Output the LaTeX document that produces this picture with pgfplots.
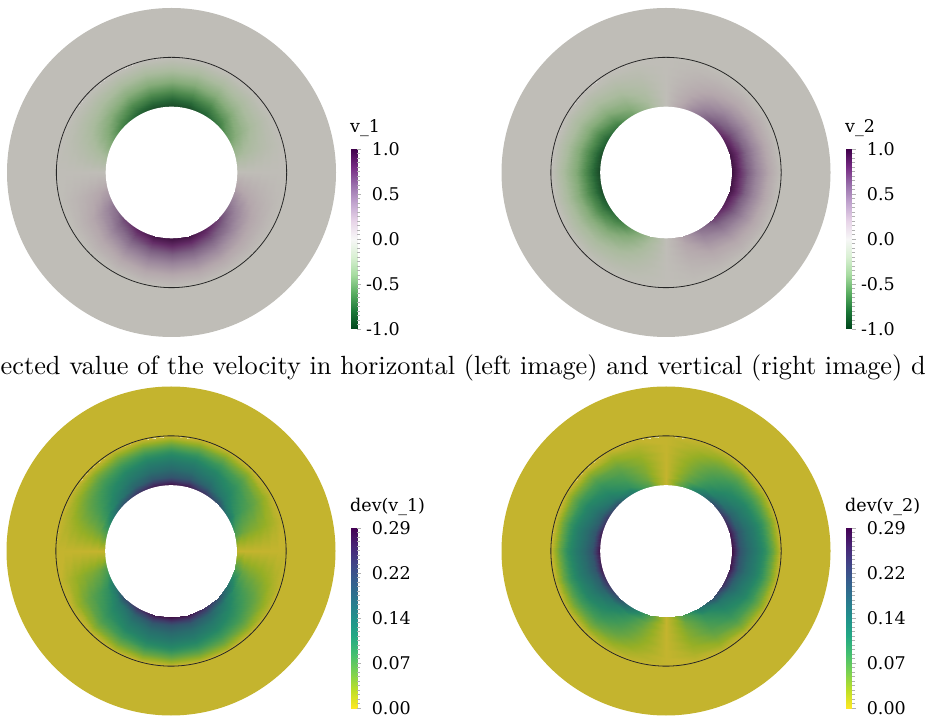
\documentclass[border=0pt]{standalone}
\usepackage{fontspec}
\usepackage{graphicx}
\usepackage{pgfplots}
\usepackage{pgfplotstable}
\pgfplotsset{compat=1.18}
\newfontfamily\cbfont{DejaVu Serif}

% colormaps: shaded versions for the discs, plain versions for the colour bars
\pgfplotsset{
  colormap={prgnlit}{rgb255=(24,70,38) rgb255=(40,104,55) rgb255=(81,140,80) rgb255=(134,172,122) rgb255=(170,187,158) rgb255=(191,189,183) rgb255=(180,167,172) rgb255=(154,133,155) rgb255=(124,95,130) rgb255=(99,44,102) rgb255=(62,16,64)},
  colormap={prgn}{rgb255=(0,68,27) rgb255=(27,120,55) rgb255=(90,174,97) rgb255=(166,219,160) rgb255=(217,240,211) rgb255=(247,247,247) rgb255=(231,212,232) rgb255=(194,165,207) rgb255=(153,112,171) rgb255=(118,42,131) rgb255=(64,0,75)},
  colormap={viridlit}{rgb255=(196,180,46) rgb255=(150,175,37) rgb255=(102,164,67) rgb255=(63,152,88) rgb255=(38,135,102) rgb255=(38,118,108) rgb255=(44,100,109) rgb255=(52,82,109) rgb255=(61,63,105) rgb255=(66,40,92) rgb255=(63,15,69)},
  colormap={virid}{rgb255=(253,231,37) rgb255=(189,223,38) rgb255=(122,209,81) rgb255=(68,191,112) rgb255=(34,168,132) rgb255=(33,145,140) rgb255=(42,120,142) rgb255=(53,95,141) rgb255=(65,68,135) rgb255=(72,36,117) rgb255=(68,1,84)},
}
\definecolor{ringgray}{RGB}{191,189,183}
\definecolor{ringolive}{RGB}{196,180,46}

\pgfplotsset{
  fieldax/.style={view={0}{90}, hide axis, scale only axis, width=329pt, height=329pt,
    xmin=-1, xmax=1, ymin=-1, ymax=1, zmin=-1, zmax=1, anchor=center},
  ringax/.style={hide axis, scale only axis, width=329pt, height=329pt,
    xmin=-1, xmax=1, ymin=-1, ymax=1, anchor=center},
  cbbar/.style={view={0}{90}, hide axis, scale only axis, width=6pt, height=180pt,
    xmin=0, xmax=1, zmin=-1, zmax=1, anchor=south west},
  cbticks/.style={scale only axis, width=6pt, height=180pt, xmin=0, xmax=1,
    anchor=south west, axis line style={draw=none}, xtick=\empty,
    ytick pos=right, yticklabel pos=right, tick align=outside,
    major tick length=4pt, minor tick length=3pt, minor y tick num=9,
    tick style={draw=black!30, line width=0.7pt},
    yticklabel style={font=\cbfont\fontsize{17.5}{20}\selectfont, anchor=east, inner sep=0pt},
    title style={at={(0,1)}, anchor=base west, yshift=10.5pt, xshift=-1pt, inner sep=0pt,
      font=\cbfont\fontsize{17.5}{20}\selectfont}},
  fieldplot/.style={surf, shader=interp, mesh/cols=25, point meta=explicit},
}

% mean velocity (v1, v2) and standard deviation (d1, d2) on a polar grid:
% angle t in degrees, radius r; one scanline per radius
\pgfplotstableread{
t r v1 v2 d1 d2
0 0.40 0 1 0 0.290
15 0.40 -0.259 0.966 0.075 0.280
30 0.40 -0.5 0.866 0.145 0.251
45 0.40 -0.707 0.707 0.205 0.205
60 0.40 -0.866 0.5 0.251 0.145
75 0.40 -0.966 0.259 0.280 0.075
90 0.40 -1 0 0.290 0
105 0.40 -0.966 -0.259 0.280 0.075
120 0.40 -0.866 -0.5 0.251 0.145
135 0.40 -0.707 -0.707 0.205 0.205
150 0.40 -0.5 -0.866 0.145 0.251
165 0.40 -0.259 -0.966 0.075 0.280
180 0.40 0 -1 0 0.290
195 0.40 0.259 -0.966 0.075 0.280
210 0.40 0.5 -0.866 0.145 0.251
225 0.40 0.707 -0.707 0.205 0.205
240 0.40 0.866 -0.5 0.251 0.145
255 0.40 0.966 -0.259 0.280 0.075
270 0.40 1 0 0.290 0
285 0.40 0.966 0.259 0.280 0.075
300 0.40 0.866 0.5 0.251 0.145
315 0.40 0.707 0.707 0.205 0.205
330 0.40 0.5 0.866 0.145 0.251
345 0.40 0.259 0.966 0.075 0.280
360 0.40 0 1 0 0.290
0 0.45 0 0.774 0 0.200
15 0.45 -0.200 0.748 0.052 0.193
30 0.45 -0.387 0.670 0.100 0.173
45 0.45 -0.547 0.547 0.141 0.141
60 0.45 -0.670 0.387 0.173 0.100
75 0.45 -0.748 0.200 0.193 0.052
90 0.45 -0.774 0 0.200 0
105 0.45 -0.748 -0.200 0.193 0.052
120 0.45 -0.670 -0.387 0.173 0.100
135 0.45 -0.547 -0.547 0.141 0.141
150 0.45 -0.387 -0.670 0.100 0.173
165 0.45 -0.200 -0.748 0.052 0.193
180 0.45 0 -0.774 0 0.200
195 0.45 0.200 -0.748 0.052 0.193
210 0.45 0.387 -0.670 0.100 0.173
225 0.45 0.547 -0.547 0.141 0.141
240 0.45 0.670 -0.387 0.173 0.100
255 0.45 0.748 -0.200 0.193 0.052
270 0.45 0.774 0 0.200 0
285 0.45 0.748 0.200 0.193 0.052
300 0.45 0.670 0.387 0.173 0.100
315 0.45 0.547 0.547 0.141 0.141
330 0.45 0.387 0.670 0.100 0.173
345 0.45 0.200 0.748 0.052 0.193
360 0.45 0 0.774 0 0.200
0 0.50 0 0.582 0 0.165
15 0.50 -0.151 0.562 0.043 0.159
30 0.50 -0.291 0.504 0.083 0.143
45 0.50 -0.412 0.412 0.117 0.117
60 0.50 -0.504 0.291 0.143 0.083
75 0.50 -0.562 0.151 0.159 0.043
90 0.50 -0.582 0 0.165 0
105 0.50 -0.562 -0.151 0.159 0.043
120 0.50 -0.504 -0.291 0.143 0.083
135 0.50 -0.412 -0.412 0.117 0.117
150 0.50 -0.291 -0.504 0.083 0.143
165 0.50 -0.151 -0.562 0.043 0.159
180 0.50 0 -0.582 0 0.165
195 0.50 0.151 -0.562 0.043 0.159
210 0.50 0.291 -0.504 0.083 0.143
225 0.50 0.412 -0.412 0.117 0.117
240 0.50 0.504 -0.291 0.143 0.083
255 0.50 0.562 -0.151 0.159 0.043
270 0.50 0.582 0 0.165 0
285 0.50 0.562 0.151 0.159 0.043
300 0.50 0.504 0.291 0.143 0.083
315 0.50 0.412 0.412 0.117 0.117
330 0.50 0.291 0.504 0.083 0.143
345 0.50 0.151 0.562 0.043 0.159
360 0.50 0 0.582 0 0.165
0 0.55 0 0.413 0 0.140
15 0.55 -0.107 0.399 0.036 0.135
30 0.55 -0.207 0.358 0.070 0.121
45 0.55 -0.292 0.292 0.099 0.099
60 0.55 -0.358 0.207 0.121 0.070
75 0.55 -0.399 0.107 0.135 0.036
90 0.55 -0.413 0 0.140 0
105 0.55 -0.399 -0.107 0.135 0.036
120 0.55 -0.358 -0.207 0.121 0.070
135 0.55 -0.292 -0.292 0.099 0.099
150 0.55 -0.207 -0.358 0.070 0.121
165 0.55 -0.107 -0.399 0.036 0.135
180 0.55 0 -0.413 0 0.140
195 0.55 0.107 -0.399 0.036 0.135
210 0.55 0.207 -0.358 0.070 0.121
225 0.55 0.292 -0.292 0.099 0.099
240 0.55 0.358 -0.207 0.121 0.070
255 0.55 0.399 -0.107 0.135 0.036
270 0.55 0.413 0 0.140 0
285 0.55 0.399 0.107 0.135 0.036
300 0.55 0.358 0.207 0.121 0.070
315 0.55 0.292 0.292 0.099 0.099
330 0.55 0.207 0.358 0.070 0.121
345 0.55 0.107 0.399 0.036 0.135
360 0.55 0 0.413 0 0.140
0 0.60 0 0.263 0 0.105
15 0.60 -0.068 0.254 0.027 0.101
30 0.60 -0.132 0.228 0.053 0.091
45 0.60 -0.186 0.186 0.074 0.074
60 0.60 -0.228 0.132 0.091 0.053
75 0.60 -0.254 0.068 0.101 0.027
90 0.60 -0.263 0 0.105 0
105 0.60 -0.254 -0.068 0.101 0.027
120 0.60 -0.228 -0.132 0.091 0.053
135 0.60 -0.186 -0.186 0.074 0.074
150 0.60 -0.132 -0.228 0.053 0.091
165 0.60 -0.068 -0.254 0.027 0.101
180 0.60 0 -0.263 0 0.105
195 0.60 0.068 -0.254 0.027 0.101
210 0.60 0.132 -0.228 0.053 0.091
225 0.60 0.186 -0.186 0.074 0.074
240 0.60 0.228 -0.132 0.091 0.053
255 0.60 0.254 -0.068 0.101 0.027
270 0.60 0.263 0 0.105 0
285 0.60 0.254 0.068 0.101 0.027
300 0.60 0.228 0.132 0.091 0.053
315 0.60 0.186 0.186 0.074 0.074
330 0.60 0.132 0.228 0.053 0.091
345 0.60 0.068 0.254 0.027 0.101
360 0.60 0 0.263 0 0.105
0 0.65 0 0.126 0 0.055
15 0.65 -0.033 0.122 0.014 0.053
30 0.65 -0.063 0.109 0.028 0.048
45 0.65 -0.089 0.089 0.039 0.039
60 0.65 -0.109 0.063 0.048 0.028
75 0.65 -0.122 0.033 0.053 0.014
90 0.65 -0.126 0 0.055 0
105 0.65 -0.122 -0.033 0.053 0.014
120 0.65 -0.109 -0.063 0.048 0.028
135 0.65 -0.089 -0.089 0.039 0.039
150 0.65 -0.063 -0.109 0.028 0.048
165 0.65 -0.033 -0.122 0.014 0.053
180 0.65 0 -0.126 0 0.055
195 0.65 0.033 -0.122 0.014 0.053
210 0.65 0.063 -0.109 0.028 0.048
225 0.65 0.089 -0.089 0.039 0.039
240 0.65 0.109 -0.063 0.048 0.028
255 0.65 0.122 -0.033 0.053 0.014
270 0.65 0.126 0 0.055 0
285 0.65 0.122 0.033 0.053 0.014
300 0.65 0.109 0.063 0.048 0.028
315 0.65 0.089 0.089 0.039 0.039
330 0.65 0.063 0.109 0.028 0.048
345 0.65 0.033 0.122 0.014 0.053
360 0.65 0 0.126 0 0.055
0 0.70 0 0 0 0
15 0.70 0 0 0 0
30 0.70 0 0 0 0
45 0.70 0 0 0 0
60 0.70 0 0 0 0
75 0.70 0 0 0 0
90 0.70 0 0 0 0
105 0.70 0 0 0 0
120 0.70 0 0 0 0
135 0.70 0 0 0 0
150 0.70 0 0 0 0
165 0.70 0 0 0 0
180 0.70 0 0 0 0
195 0.70 0 0 0 0
210 0.70 0 0 0 0
225 0.70 0 0 0 0
240 0.70 0 0 0 0
255 0.70 0 0 0 0
270 0.70 0 0 0 0
285 0.70 0 0 0 0
300 0.70 0 0 0 0
315 0.70 0 0 0 0
330 0.70 0 0 0 0
345 0.70 0 0 0 0
360 0.70 0 0 0 0
}\fieldtable

\begin{document}
\begin{tikzpicture}
\useasboundingbox (0,0) rectangle (933pt,717pt);
\clip (0,0) rectangle (933pt,717pt);

% ---- fields ----
\begin{axis}[fieldax, at={(171.5pt,544.5pt)}, colormap name=prgnlit, point meta min=-1, point meta max=1]
\addplot3[fieldplot] table[x expr={\thisrow{r}*cos(\thisrow{t})}, y expr={\thisrow{r}*sin(\thisrow{t})}, z expr=0, meta=v1] {\fieldtable};
\end{axis}
\begin{axis}[fieldax, at={(666pt,544.5pt)}, colormap name=prgnlit, point meta min=-1, point meta max=1]
\addplot3[fieldplot] table[x expr={\thisrow{r}*cos(\thisrow{t})}, y expr={\thisrow{r}*sin(\thisrow{t})}, z expr=0, meta=v2] {\fieldtable};
\end{axis}
\begin{axis}[fieldax, at={(171pt,166pt)}, colormap name=viridlit, point meta min=0, point meta max=0.29]
\addplot3[fieldplot] table[x expr={\thisrow{r}*cos(\thisrow{t})}, y expr={\thisrow{r}*sin(\thisrow{t})}, z expr=0, meta=d1] {\fieldtable};
\end{axis}
\begin{axis}[fieldax, at={(666pt,166pt)}, colormap name=viridlit, point meta min=0, point meta max=0.29]
\addplot3[fieldplot] table[x expr={\thisrow{r}*cos(\thisrow{t})}, y expr={\thisrow{r}*sin(\thisrow{t})}, z expr=0, meta=d2] {\fieldtable};
\end{axis}

% ---- outer rings, inner hole and the interface circle ----
\begin{axis}[ringax, at={(171.5pt,544.5pt)}]
\fill[ringgray, even odd rule] (axis cs:0,0) circle[radius=1] (axis cs:0,0) circle[radius=0.692];
\fill[white] (axis cs:0,0) circle[radius=0.4];
\draw[black!85, line width=0.8pt] (axis cs:0,0) circle[radius=0.7];
\end{axis}
\begin{axis}[ringax, at={(666pt,544.5pt)}]
\fill[ringgray, even odd rule] (axis cs:0,0) circle[radius=1] (axis cs:0,0) circle[radius=0.692];
\fill[white] (axis cs:0,0) circle[radius=0.4];
\draw[black!85, line width=0.8pt] (axis cs:0,0) circle[radius=0.7];
\end{axis}
\begin{axis}[ringax, at={(171pt,166pt)}]
\fill[ringolive, even odd rule] (axis cs:0,0) circle[radius=1] (axis cs:0,0) circle[radius=0.692];
\fill[white] (axis cs:0,0) circle[radius=0.4];
\draw[black!85, line width=0.8pt] (axis cs:0,0) circle[radius=0.7];
\end{axis}
\begin{axis}[ringax, at={(666pt,166pt)}]
\fill[ringolive, even odd rule] (axis cs:0,0) circle[radius=1] (axis cs:0,0) circle[radius=0.692];
\fill[white] (axis cs:0,0) circle[radius=0.4];
\draw[black!85, line width=0.8pt] (axis cs:0,0) circle[radius=0.7];
\end{axis}

% ---- colour bars ----
\begin{axis}[cbbar, at={(351pt,388pt)}, ymin=-1, ymax=1, colormap name=prgn, point meta min=-1, point meta max=1]
\addplot3[surf, shader=interp, mesh/cols=2, point meta=y] coordinates {(0,-1,0) (1,-1,0) (0,1,0) (1,1,0)};
\end{axis}
\begin{axis}[cbticks, at={(351pt,388pt)}, ymin=-1, ymax=1, ytick={-1,-0.5,0,0.5,1},
  yticklabels={-1.0,-0.5,0.0,0.5,1.0}, yticklabel style={xshift=39pt}, title={v\_1}]
\end{axis}

\begin{axis}[cbbar, at={(846pt,388pt)}, ymin=-1, ymax=1, colormap name=prgn, point meta min=-1, point meta max=1]
\addplot3[surf, shader=interp, mesh/cols=2, point meta=y] coordinates {(0,-1,0) (1,-1,0) (0,1,0) (1,1,0)};
\end{axis}
\begin{axis}[cbticks, at={(846pt,388pt)}, ymin=-1, ymax=1, ytick={-1,-0.5,0,0.5,1},
  yticklabels={-1.0,-0.5,0.0,0.5,1.0}, yticklabel style={xshift=39pt}, title={v\_2}]
\end{axis}

\begin{axis}[cbbar, at={(351pt,9pt)}, ymin=0, ymax=0.29, colormap name=virid, point meta min=0, point meta max=0.29]
\addplot3[surf, shader=interp, mesh/cols=2, point meta=y] coordinates {(0,0,0) (1,0,0) (0,0.29,0) (1,0.29,0)};
\end{axis}
\begin{axis}[cbticks, at={(351pt,9pt)}, ymin=0, ymax=0.29, ytick={0,0.0725,0.145,0.2175,0.29},
  yticklabels={0.00,0.07,0.14,0.22,0.29}, yticklabel style={xshift=50pt}, title={dev(v\_1)}]
\end{axis}

\begin{axis}[cbbar, at={(846pt,9pt)}, ymin=0, ymax=0.29, colormap name=virid, point meta min=0, point meta max=0.29]
\addplot3[surf, shader=interp, mesh/cols=2, point meta=y] coordinates {(0,0,0) (1,0,0) (0,0.29,0) (1,0.29,0)};
\end{axis}
\begin{axis}[cbticks, at={(846pt,9pt)}, ymin=0, ymax=0.29, ytick={0,0.0725,0.145,0.2175,0.29},
  yticklabels={0.00,0.07,0.14,0.22,0.29}, yticklabel style={xshift=50pt}, title={dev(v\_2)}]
\end{axis}

% ---- caption line ----
\node[anchor=base west, inner sep=0pt] at (0.5pt,342pt)
  {\scalebox{2.63}{\fontsize{10}{12}\selectfont ected value of the velocity in horizontal (left image) and vertical (right image) d}};
\end{tikzpicture}
\end{document}
